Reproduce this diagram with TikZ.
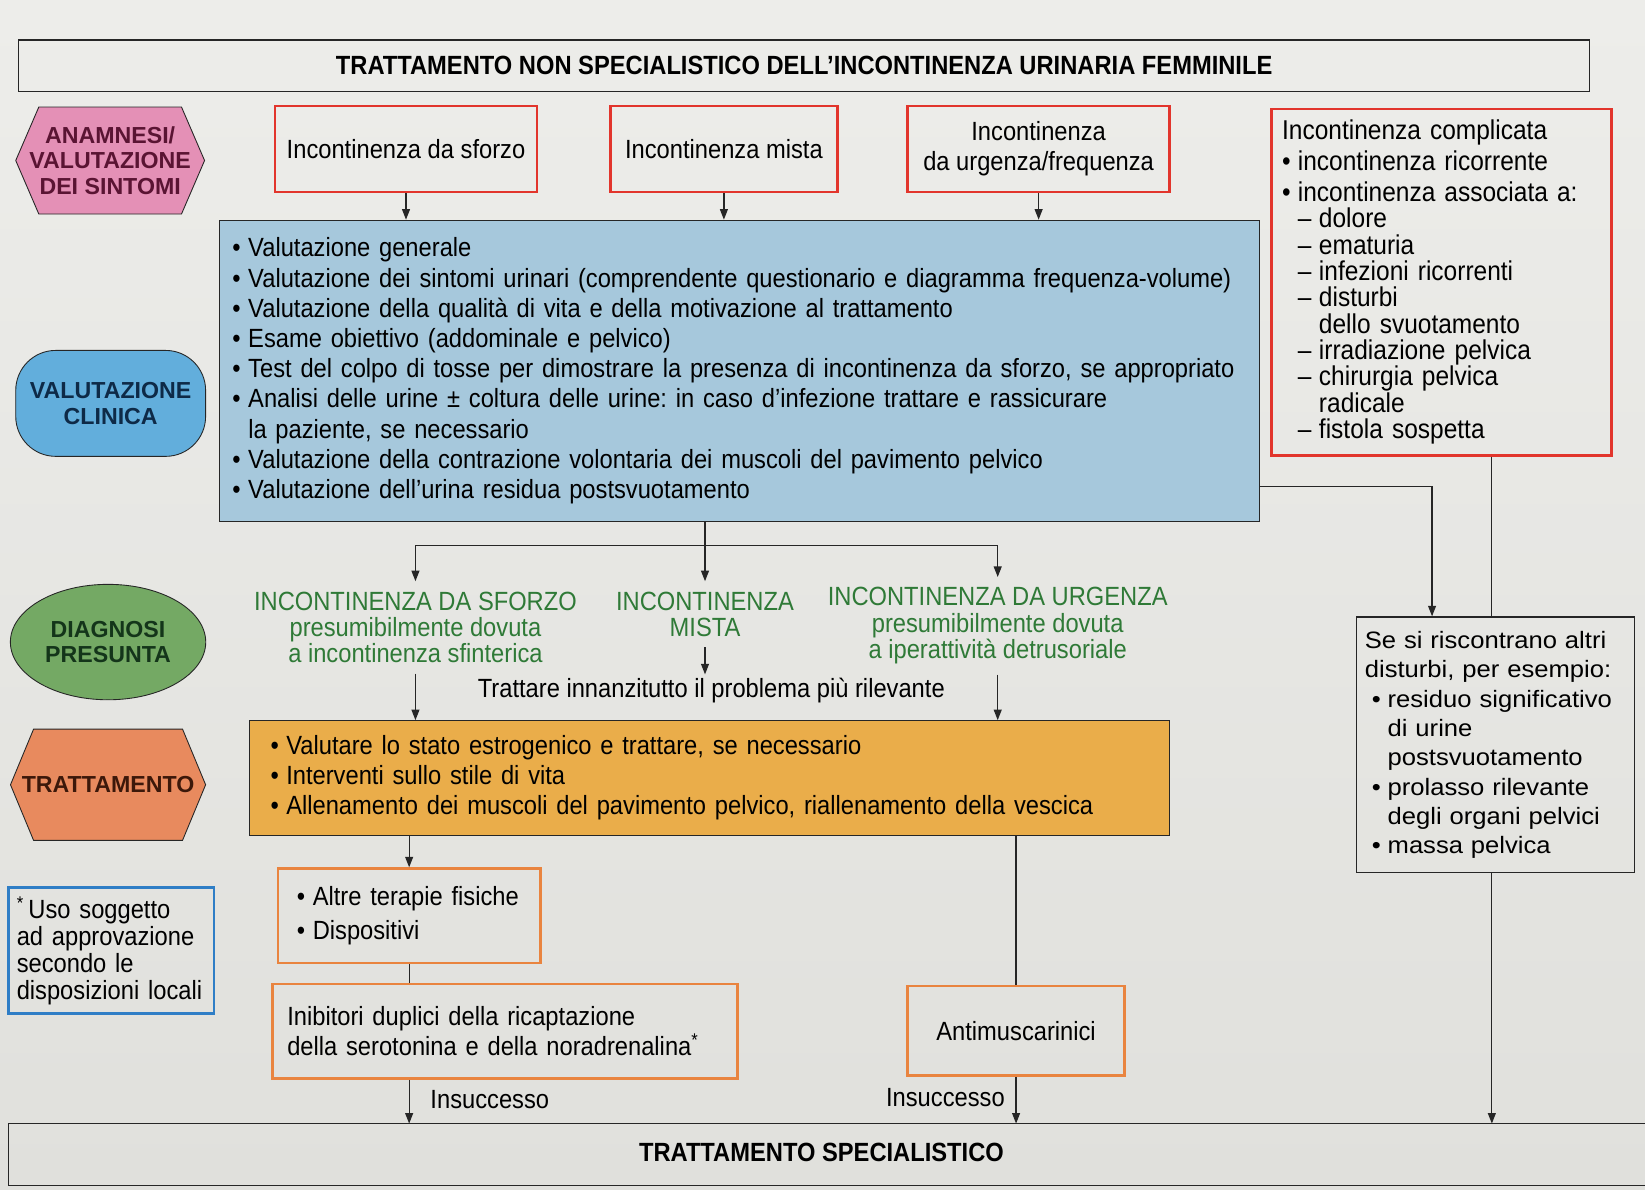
\documentclass[tikz,border=0pt]{standalone}
\usepackage{fontspec}
\setmainfont{Liberation Sans}
\newfontfamily\cond{Liberation Sans}[FakeStretch=0.9]
\newfontfamily\wide{Liberation Sans}[FakeStretch=1.08]
\usetikzlibrary{arrows.meta,shapes.geometric}
\frenchspacing

\definecolor{CPaper}{HTML}{EDEDEA}
\definecolor{CPaperDark}{HTML}{E0E0DC}
\definecolor{CLine}{HTML}{262626}
\definecolor{CRed}{HTML}{E2352C}
\definecolor{COrange}{HTML}{E9843F}
\definecolor{CBlueLine}{HTML}{2F7EC6}
\definecolor{CBlueFill}{HTML}{A6C8DC}
\definecolor{CGold}{HTML}{EAAD4A}
\definecolor{CPink}{HTML}{E490B6}
\definecolor{CPinkText}{HTML}{5A1433}
\definecolor{CSky}{HTML}{62AEDC}
\definecolor{CSkyText}{HTML}{0E2A47}
\definecolor{CGreen}{HTML}{74A964}
\definecolor{CGreenText}{HTML}{14351A}
\definecolor{CSalmon}{HTML}{E88A5E}
\definecolor{CSalmonText}{HTML}{3C180A}
\definecolor{CDiag}{HTML}{2F7A37}

\newcommand\bodyfont{\cond\fontsize{15}{17.2}\selectfont}
\newcommand\itm{\makebox[9pt][l]{\textbullet}}
\newcommand\dsh{\makebox[12pt][l]{–}}

\begin{document}
\frenchspacing
\begin{tikzpicture}[x=0.021cm, y=-0.021cm,
  line/.style={draw=CLine, line width=0.7pt},
  arr/.style={line, -{Triangle[length=6pt,width=4.5pt]}},
  txt/.style={font=\bodyfont, inner sep=0pt},
  redbox/.style={txt, draw=CRed, line width=1.5pt, align=center},
  orbox/.style={txt, draw=COrange, line width=1.5pt},
  side/.style={draw=CLine, line width=0.5pt, inner sep=0pt, align=center,
    font=\fontsize{13.2}{14.6}\selectfont\bfseries},
  diag/.style={txt, text=CDiag, align=center, outer ysep=6pt, font=\cond\fontsize{15}{15}\selectfont}
]

  % page
  \useasboundingbox (0,0) rectangle (1568,1134);
  \shade[top color=CPaper, bottom color=CPaperDark] (0,0) rectangle (1568,1134);

  % ============================================
  % Header
  % ============================================
  \node[txt, draw=CLine, line width=0.8pt, minimum width=31.44cm, minimum height=1.03cm,
    font=\cond\bfseries\fontsize{15}{17}\selectfont] (title) at (766.5,62.5)
    {TRATTAMENTO NON SPECIALISTICO DELL’INCONTINENZA URINARIA FEMMINILE};

  % ============================================
  % Left column: phases
  % ============================================
  \filldraw[fill=CPink, draw=CLine, line width=0.5pt]
    (37,102) -- (173,102) -- (195,153) -- (173,204) -- (37,204) -- (15,153) -- cycle;
  \node[side, draw=none, text=CPinkText] (anamnesi) at (105,153)
    {ANAMNESI/\\VALUTAZIONE\\DEI SINTOMI};
  \node[side, fill=CSky, text=CSkyText, rounded corners=0.8cm, minimum width=3.8cm, minimum height=2.12cm] (clinica) at (105.5,384.5)
    {VALUTAZIONE\\CLINICA};
  \node[side, ellipse, fill=CGreen, text=CGreenText, minimum width=3.91cm, minimum height=2.31cm] (diagnosi) at (103,612)
    {DIAGNOSI\\PRESUNTA};
  \filldraw[fill=CSalmon, draw=CLine, line width=0.5pt]
    (32,695) -- (174,695) -- (196,748) -- (174,801) -- (32,801) -- (10,748) -- cycle;
  \node[side, draw=none, text=CSalmonText] (trattam) at (103,748) {TRATTAMENTO};
  \node[txt, draw=CBlueLine, line width=1.5pt, align=left, inner xsep=0.17cm, text width=3.78cm,
    minimum height=2.52cm, font=\cond\fontsize{15}{15.3}\selectfont] (nota) at (106,906)
    {\textsuperscript{*}\,Uso soggetto\\ad approvazione\\secondo le\\disposizioni locali};

  % ============================================
  % Symptoms
  % ============================================
  \node[redbox, minimum width=5.25cm, minimum height=1.72cm] (sforzo) at (387,142) {Incontinenza da sforzo};
  \node[redbox, minimum width=4.54cm, minimum height=1.72cm] (mista) at (690,142) {Incontinenza mista};
  \node[redbox, minimum width=5.25cm, minimum height=1.72cm] (urgenza) at (990,142) {Incontinenza\\da urgenza/frequenza};

  \node[txt, draw=CRed, line width=1.5pt, align=left, inner xsep=0.21cm, text width=6.38cm,
    minimum height=6.93cm, font=\cond\fontsize{15.5}{15}\selectfont] (complic) at (1374,269)
    {Incontinenza complicata\\[2.5pt]
     \itm incontinenza ricorrente\\[2.5pt]
     \itm incontinenza associata a:\\
     \hspace*{9pt}\dsh dolore\\
     \hspace*{9pt}\dsh ematuria\\
     \hspace*{9pt}\dsh infezioni ricorrenti\\
     \hspace*{9pt}\dsh disturbi\\
     \hspace*{21pt}dello svuotamento\\
     \hspace*{9pt}\dsh irradiazione pelvica\\
     \hspace*{9pt}\dsh chirurgia pelvica\\
     \hspace*{21pt}radicale\\
     \hspace*{9pt}\dsh fistola sospetta};

  % ============================================
  % Clinical assessment
  % ============================================
  \node[txt, draw=CLine, line width=0.6pt, fill=CBlueFill, align=left, inner xsep=0.25cm,
    text width=20.3cm, minimum height=6.03cm] (valut) at (705,353.5)
    {\itm Valutazione generale\\
     \itm Valutazione dei sintomi urinari (comprendente questionario e diagramma frequenza-volume)\\
     \itm Valutazione della qualità di vita e della motivazione al trattamento\\
     \itm Esame obiettivo (addominale e pelvico)\\
     \itm Test del colpo di tosse per dimostrare la presenza di incontinenza da sforzo, se appropriato\\
     \itm Analisi delle urine ± coltura delle urine: in caso d’infezione trattare e rassicurare\\
     \hspace*{9pt}la paziente, se necessario\\
     \itm Valutazione della contrazione volontaria dei muscoli del pavimento pelvico\\
     \itm Valutazione dell’urina residua postsvuotamento};

  \draw[arr] (sforzo.south) -- (sforzo.south |- valut.north);
  \draw[arr] (mista.south) -- (mista.south |- valut.north);
  \draw[arr] (urgenza.south) -- (urgenza.south |- valut.north);

  % ============================================
  % Presumed diagnosis
  % ============================================
  \node[diag, anchor=north] (dsforzo) at (396,554)
    {INCONTINENZA DA SFORZO\\presumibilmente dovuta\\a incontinenza sfinterica};
  \node[diag, anchor=north] (dmista) at (672,554) {INCONTINENZA\\MISTA};
  \node[diag, anchor=north] (durgenza) at (951,550)
    {INCONTINENZA DA URGENZA\\presumibilmente dovuta\\a iperattività detrusoriale};
  \node[txt, outer ysep=2pt] (rilevante) at (678,658) {Trattare innanzitutto il problema più rilevante};

  \coordinate (split) at (dmista.north |- 0,520);
  \draw[arr] (dmista.north |- valut.south) -- (dmista.north);
  \draw[arr] (split) -| (dsforzo.north);
  \draw[arr] (split) -| (durgenza.north);
  \draw[arr] (dmista.south) -- (dmista.south |- rilevante.north);

  % ============================================
  % Treatment
  % ============================================
  \node[txt, draw=CLine, line width=0.6pt, fill=CGold, align=left, inner xsep=0.42cm,
    text width=17.58cm, minimum height=2.29cm] (tratt) at (676.5,741.5)
    {\itm Valutare lo stato estrogenico e trattare, se necessario\\
     \itm Interventi sullo stile di vita\\
     \itm Allenamento dei muscoli del pavimento pelvico, riallenamento della vescica};

  \draw[arr] (dsforzo.south) -- (dsforzo.south |- tratt.north);
  \draw[arr] (durgenza.south) -- (durgenza.south |- tratt.north);

  \node[orbox, align=left, inner xsep=0.38cm, text width=4.49cm, minimum height=1.89cm] (altre) at (390,873)
    {\itm Altre terapie fisiche\\[2pt]\itm Dispositivi};
  \node[orbox, align=left, inner xsep=0.29cm, text width=8.72cm, minimum height=1.89cm] (inibit) at (481.5,983)
    {Inibitori duplici della ricaptazione\\della serotonina e della noradrenalina\textsuperscript{*}};
  \node[orbox, minimum width=4.35cm, minimum height=1.79cm] (antimusc) at (968.5,982.5) {Antimuscarinici};

  \draw[arr] (altre.north |- tratt.south) -- (altre.north);
  \draw[line] (altre.south) -- (altre.south |- inibit.north);
  \draw[line] (antimusc.north |- tratt.south) -- (antimusc.north);

  % ============================================
  % Other findings
  % ============================================
  \node[txt, draw=CLine, line width=0.7pt, align=left, inner xsep=0.17cm, text width=5.23cm,
    minimum height=5.12cm, font=\wide\fontsize{13.5}{16.7}\selectfont] (altri) at (1425.5,710)
    {Se si riscontrano altri\\
     disturbi, per esempio:\\
     \hspace*{4pt}\itm residuo significativo\\
     \hspace*{13pt}di urine\\
     \hspace*{13pt}postsvuotamento\\
     \hspace*{4pt}\itm prolasso rilevante\\
     \hspace*{13pt}degli organi pelvici\\
     \hspace*{4pt}\itm massa pelvica};

  \draw[arr] (valut.east |- 0,464) -| (1365,0 |- altri.north);
  \draw[line] (1422,0 |- complic.south) -- (1422,0 |- altri.north);

  % ============================================
  % Specialist treatment
  % ============================================
  \coordinate (spectop) at (0,1071);
  \draw[CLine, line width=0.8pt] (1568,1071) -- (8,1071) -- (8,1130) -- (1568,1130);
  \node[txt, font=\cond\bfseries\fontsize{15}{17}\selectfont] (special) at (783,1098) {TRATTAMENTO SPECIALISTICO};

  \draw[arr] (altre.south |- inibit.south) -- (altre.south |- spectop);
  \draw[arr] (antimusc.south) -- (antimusc.south |- spectop);
  \draw[arr] (1422,0 |- altri.south) -- (1422,0 |- spectop);
  \node[txt, anchor=west] (insucc1) at (410,1048) {Insuccesso};
  \node[txt, anchor=east] (insucc2) at (958,1046) {Insuccesso};

\end{tikzpicture}
\end{document}
